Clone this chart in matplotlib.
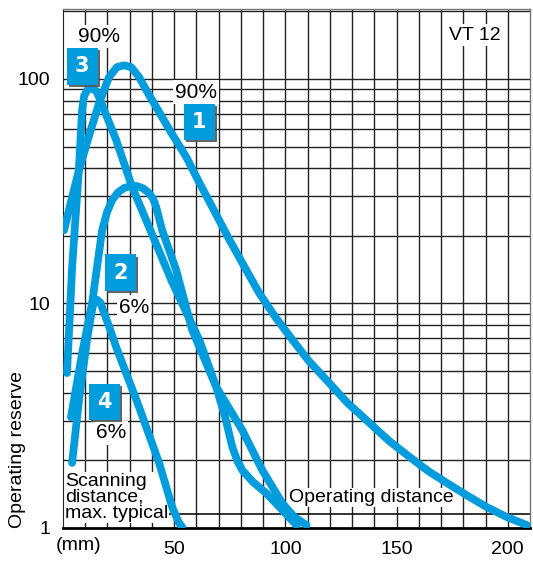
import numpy as np
import matplotlib.pyplot as plt
import matplotlib.patheffects as pe

# curve data (distance in mm, operating reserve)
c1_x = [0.5, 4.0, 7.2, 11.5, 16.2, 20.7, 24.3, 27.5, 30.6, 34.2, 37.5, 41.9, 48.5,
        55.4, 61.0, 67.1, 74.5, 82.4, 88.3, 95.5, 103.2, 110.5, 118.5, 128.0,
        137.8, 146.5, 155.9, 164.0, 172.5, 181.5, 190.5, 199.5, 208.6]
c1_y = [21.2, 29.5, 39.3, 55, 78, 102, 113, 115, 113, 102, 89, 75, 58,
        45, 35, 26.9, 19.5, 14.1, 11.1, 8.7, 6.88, 5.55, 4.56, 3.6,
        2.94, 2.45, 2.07, 1.8, 1.59, 1.4, 1.24, 1.12, 1.03]

c2_x = [3.6, 8.6, 13.1, 15.5, 17.6, 19.8, 22.1, 24.8, 27.5, 30.2, 32.9, 36.0, 38.7,
        40.5, 41.9, 44.6, 50.9, 58.1, 68.9, 73.0, 76.1, 78.5, 80.6, 85.5, 91.4,
        98.0, 105.0]
c2_y = [3.12, 6.0, 10.05, 15, 21.2, 25.5, 28.9, 31.3, 32.7, 33.3, 33.4, 32.6, 31,
        29.3, 26.9, 21.2, 14.1, 7.62, 4.25, 3.1, 2.3, 1.98, 1.81, 1.6, 1.43,
        1.22, 1.03]

c3_x = [1.8, 4.1, 7.2, 8.6, 9.5, 10.8, 13.1, 14.9, 16.2, 23.9, 31.1, 37.4, 49.0,
        61.3, 68.9, 80.6, 89.6, 98.6, 104.0, 109.5]
c3_y = [4.9, 14.5, 40.5, 72.8, 84, 89, 91, 88.5, 83, 53.5, 33, 23.5, 12.5,
        6.88, 4.25, 2.73, 1.81, 1.29, 1.12, 1.03]

c4_x = [4.1, 7.2, 10.8, 12.5, 13.5, 15.3, 16.8, 18.0, 20.5, 23.9, 34.2, 43.2,
        49.1, 52.0, 53.6]
c4_y = [1.95, 3.72, 6.88, 8.7, 9.85, 10.4, 10.1, 9.35, 8.0, 6.4, 3.46, 1.95,
        1.24, 1.06, 1.01]

x_ticks = [50, 100, 150, 200]
y_ticks = [1, 10, 100]
y_tick_labels = ["1", "10", "100"]

blue = "#009cdc"

plt.rcParams["font.family"] = ["Liberation Sans", "DejaVu Sans"]
plt.rcParams["font.size"] = 14

fig = plt.figure(figsize=(5.33, 5.62), dpi=100)
ax = fig.add_axes([63 / 533, 1 - 528 / 562, 467 / 533, 519 / 562])
ax.set_yscale("log")
ax.set_xlim(0, 210)
ax.set_ylim(1, 205)

# grid
for gx in range(10, 210, 10):
    ax.axvline(gx, color="#222222", lw=1.0, zorder=1)
for dec in [1, 10, 100]:
    for m in range(1, 10):
        v = dec * m
        if 1 < v < 205:
            ax.axhline(v, color="#222222", lw=1.0, zorder=1)
ax.axhline(1.15, color="#111111", lw=1.2, zorder=1)

for xs, ys in [(c1_x, c1_y), (c2_x, c2_y), (c3_x, c3_y), (c4_x, c4_y)]:
    ax.plot(xs, ys, color=blue, lw=5.6, solid_capstyle="round",
            solid_joinstyle="round", zorder=3)

ax.set_xticks(x_ticks)
ax.set_xticklabels([str(t) for t in x_ticks])
ax.set_yticks(y_ticks)
ax.set_yticklabels(y_tick_labels)
ax.yaxis.set_minor_locator(plt.NullLocator())
ax.tick_params(length=0, pad=9, labelsize=14)

for s in ["top", "right"]:
    ax.spines[s].set_color("#777777")
    ax.spines[s].set_linewidth(1.0)
ax.spines["left"].set_color("#222222")
ax.spines["bottom"].set_color("black")
ax.spines["bottom"].set_linewidth(2.0)

white = dict(facecolor="white", edgecolor="none", pad=1.5)
ax.text(16.2, 154, "90%", ha="center", va="center", fontsize=15, bbox=white, zorder=4)
ax.text(59.9, 87.5, "90%", ha="center", va="center", fontsize=15, bbox=white, zorder=2)
ax.text(32, 9.64, "6%", ha="center", va="center", fontsize=15, bbox=white, zorder=2)
ax.text(21.6, 2.65, "6%", ha="center", va="center", fontsize=15, bbox=white, zorder=2)
ax.text(185, 157, "VT 12", ha="center", va="center", bbox=white, zorder=2)
ax.text(0.9, 1.37, "Scanning\ndistance,\nmax. typical", ha="left", va="center",
        linespacing=0.92,
        bbox=dict(facecolor="white", edgecolor="none", pad=0.5), zorder=2)
ax.text(101.5, 1.37, "Operating distance", ha="left", va="center",
        bbox=dict(facecolor="white", edgecolor="none", pad=0.5), zorder=2)

# numbered boxes
for num, bx, by in [("1", 61.3, 64.3), ("2", 25.7, 13.7), ("3", 8.6, 114), ("4", 18.5, 3.64)]:
    t = ax.text(bx, by, num, ha="center", va="center", color="white",
                fontsize=15, fontweight="bold", family=["DejaVu Sans"], zorder=5,
                bbox=dict(boxstyle="square,pad=0.4", facecolor=blue, edgecolor="none"))
    t.get_bbox_patch().set_path_effects(
        [pe.SimplePatchShadow(offset=(1.5, -1.5), shadow_rgbFace="#555555", alpha=0.9),
         pe.Normal()])

ax.text(7.2, -0.018, "(mm)", transform=ax.get_xaxis_transform(), ha="center",
        va="top")
fig.text(18 / 533, 1 - 528 / 562, "Operating reserve", rotation=90,
         ha="center", va="bottom")

fig.savefig("out.png", dpi=100)
